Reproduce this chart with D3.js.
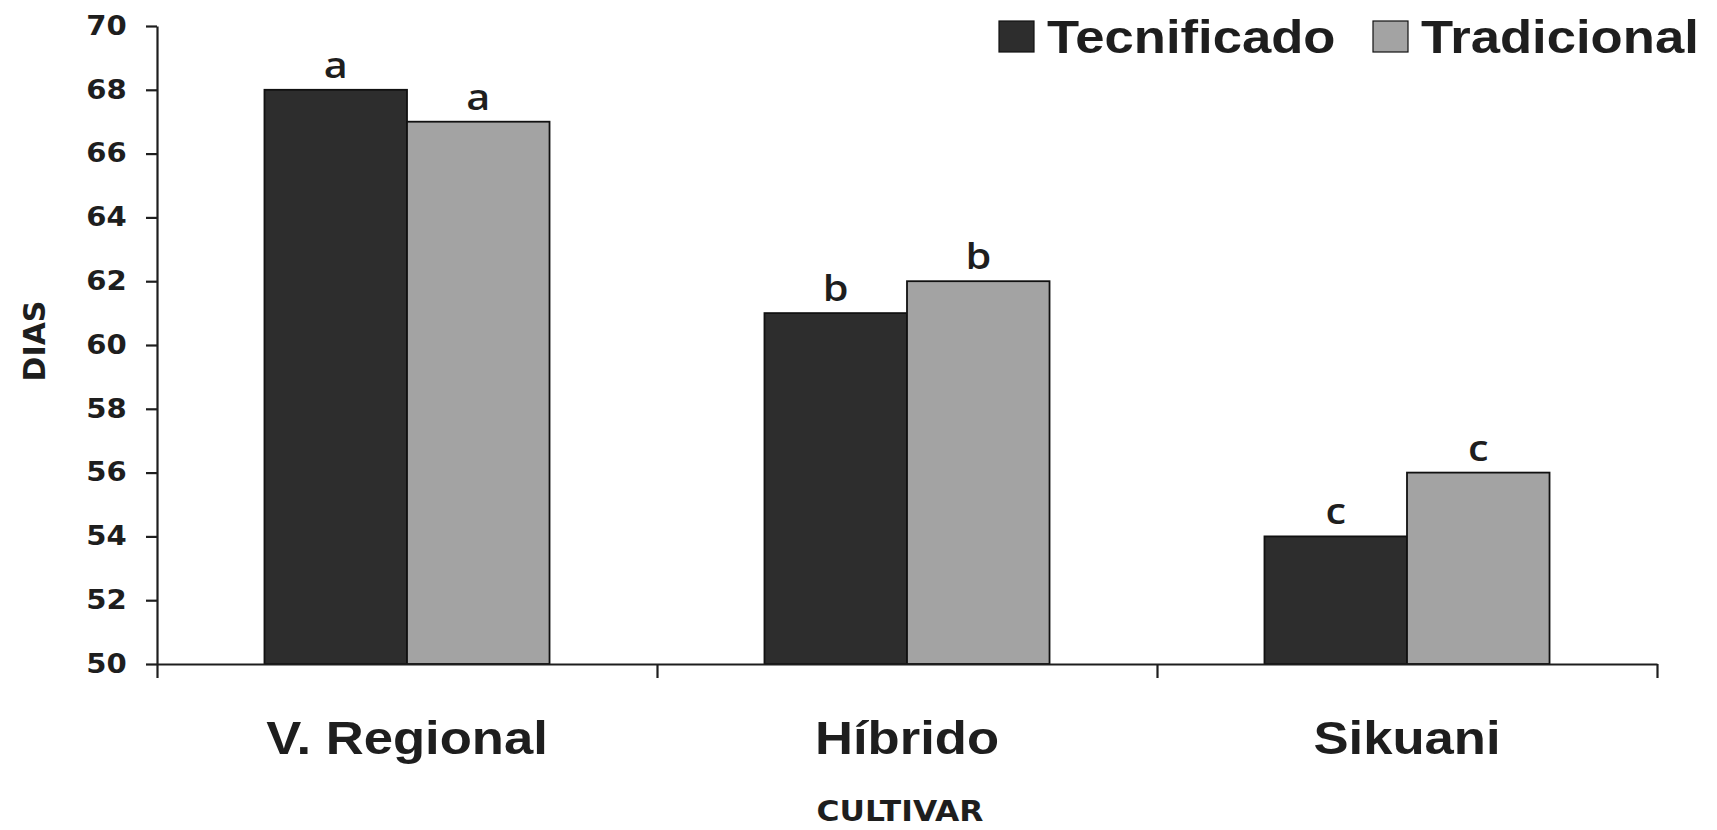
<!DOCTYPE html>
<html>
<head>
<meta charset="utf-8">
<script src="https://cdn.jsdelivr.net/npm/d3@7"></script>
<style>
  html, body { margin: 0; padding: 0; background: #ffffff; }
  svg { display: block; }
</style>
</head>
<body>
<svg id="chart" width="1717" height="830"></svg>
<script>
// ---- data ----
const categories = ["V. Regional", "Híbrido", "Sikuani"];
const seriesNames = ["Tecnificado", "Tradicional"];
const tecnificado = [68, 61, 54];
const tradicional = [67, 62, 56];
const letrasTecnificado = ["a", "b", "c"];
const letrasTradicional = ["a", "b", "c"];
const yTicks = [50, 52, 54, 56, 58, 60, 62, 64, 66, 68, 70];
const yTitle = "DIAS";
const xTitle = "CULTIVAR";

// ---- layout / style ----
const SX = 1.12; // horizontal stretch of the scanned original
const colors = { "Tecnificado": "#2d2d2d", "Tradicional": "#a3a3a3" };
const ink = "#1e1e1e";
const plotLeft = 157, plotRight = 1657, plotTop = 26, plotBase = 664;

const svg = d3.select("#chart");

const y = d3.scaleLinear().domain([50, 70]).range([plotBase, plotTop]);
const x0 = d3.scaleBand().domain(categories).range([plotLeft, plotRight]).padding(0);
const x1 = d3.scaleBand().domain(seriesNames).range([0, x0.bandwidth()])
  .paddingInner(0).paddingOuter(0.754);

const rows = categories.map((c, i) => ({
  cat: c,
  vals: [
    { s: "Tecnificado", v: tecnificado[i], l: letrasTecnificado[i] },
    { s: "Tradicional", v: tradicional[i], l: letrasTradicional[i] }
  ]
}));

// bars
const g = svg.append("g");
const groups = g.selectAll("g.grp").data(rows).join("g")
  .attr("class", "grp")
  .attr("transform", d => `translate(${x0(d.cat)},0)`);
groups.selectAll("rect").data(d => d.vals).join("rect")
  .attr("x", d => x1(d.s))
  .attr("y", d => y(d.v))
  .attr("width", x1.bandwidth())
  .attr("height", d => y(50) - y(d.v))
  .attr("fill", d => colors[d.s])
  .attr("stroke", "#111")
  .attr("stroke-width", 1.8);

// significance letters
groups.selectAll("text.let").data(d => d.vals).join("text")
  .attr("class", "let")
  .attr("transform", d => `translate(${x1(d.s) + x1.bandwidth() / 2},${y(d.v) - 12}) scale(${SX},1)`)
  .attr("text-anchor", "middle")
  .attr("font-family", "'Open Sans', 'Noto Sans', sans-serif")
  .attr("font-weight", 600)
  .attr("font-size", 37)
  .attr("fill", ink)
  .text(d => d.l);

// y axis
const yAxis = svg.append("g")
  .attr("transform", `translate(${plotLeft},0)`)
  .call(d3.axisLeft(y).tickValues(yTicks).tickSize(11).tickSizeOuter(0).tickPadding(16).tickFormat(d3.format("d")));
yAxis.select(".domain").attr("stroke", ink).attr("stroke-width", 2.2);
yAxis.selectAll(".tick line").attr("stroke", ink).attr("stroke-width", 2.2);
yAxis.selectAll(".tick text")
  .attr("font-family", "'DejaVu Sans', Verdana, sans-serif")
  .attr("font-weight", "bold")
  .attr("font-size", 26)
  .attr("fill", ink)
  .attr("transform", `scale(${SX},1)`);

// x axis (boundary ticks)
const xb = d3.scaleLinear().domain([0, categories.length]).range([plotLeft, plotRight]);
const xAxis = svg.append("g")
  .attr("transform", `translate(0,${plotBase})`)
  .call(d3.axisBottom(xb).tickValues(d3.range(0, categories.length + 1)).tickSize(14).tickSizeOuter(0).tickFormat(""));
xAxis.select(".domain").attr("stroke", ink).attr("stroke-width", 2.2);
xAxis.selectAll(".tick line").attr("stroke", ink).attr("stroke-width", 2.2);

// category labels
svg.append("g").selectAll("text").data(categories).join("text")
  .attr("transform", d => `translate(${x0(d) + x0.bandwidth() / 2},754) scale(${SX},1)`)
  .attr("text-anchor", "middle")
  .attr("font-family", "'Liberation Sans', Arial, sans-serif")
  .attr("font-weight", "bold")
  .attr("font-size", 47)
  .attr("fill", ink)
  .text(d => d);

// axis titles
svg.append("text")
  .attr("transform", `translate(900,821) scale(${SX},1)`)
  .attr("text-anchor", "middle")
  .attr("font-family", "'DejaVu Sans', Verdana, sans-serif")
  .attr("font-weight", "bold")
  .attr("font-size", 28)
  .attr("fill", ink)
  .text(xTitle);

svg.append("text")
  .attr("transform", "translate(45,341) rotate(-90)")
  .attr("text-anchor", "middle")
  .attr("font-family", "'DejaVu Sans', Verdana, sans-serif")
  .attr("font-weight", "bold")
  .attr("font-size", 30)
  .attr("fill", ink)
  .text(yTitle);

// legend
const legendX = [999, 1373];
const leg = svg.append("g").selectAll("g").data(seriesNames).join("g")
  .attr("transform", (d, i) => `translate(${legendX[i]},0)`);
leg.append("rect")
  .attr("x", 0).attr("y", 21).attr("width", 35).attr("height", 31)
  .attr("fill", d => colors[d])
  .attr("stroke", "#111").attr("stroke-width", 1.2);
leg.append("text")
  .attr("transform", `translate(48,53) scale(${SX},1)`)
  .attr("font-family", "'Liberation Sans', Arial, sans-serif")
  .attr("font-weight", "bold")
  .attr("font-size", 47)
  .attr("fill", ink)
  .text(d => d);
</script>
</body>
</html>
